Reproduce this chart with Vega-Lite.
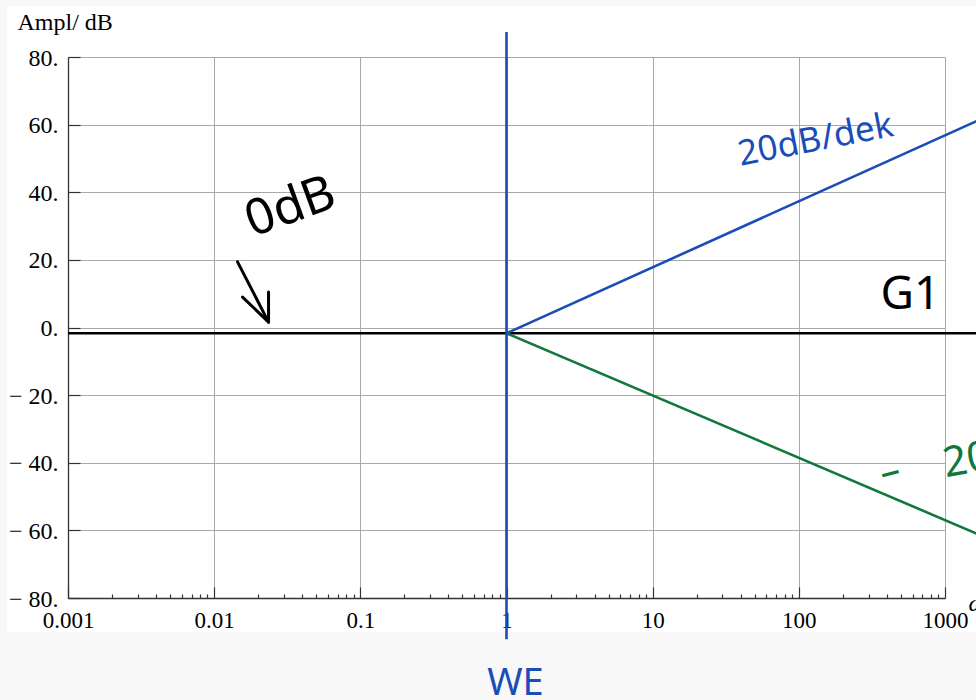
{
  "$schema": "https://vega.github.io/schema/vega-lite/v6.json",
  "width": 877,
  "height": 541,
  "autosize": {"type": "none"},
  "padding": {"left": 68, "top": 57, "right": 31, "bottom": 102},
  "background": "#ffffff",
  "datasets": {
    "bg": [
      {"x": 0.0001, "x2": 100000, "y": -90.1, "y2": -200},
      {"x": 0.0001, "x2": 100000, "y": 95.1, "y2": 200},
      {"x": 0.0001, "x2": 0.000383, "y": -200, "y2": 200}
    ],
    "lines": [
      {"name": "G1", "x": 0.001, "y": -1.7, "o": 0},
      {"name": "G1", "x": 2000, "y": -1.7, "o": 1},
      {"name": "up", "x": 1, "y": -1.7, "o": 0},
      {"name": "up", "x": 2000, "y": 62.7, "o": 1},
      {"name": "down", "x": 1, "y": -1.7, "o": 0},
      {"name": "down", "x": 2000, "y": -62.5, "o": 1},
      {"name": "we", "x": 1, "y": 87.4, "o": 0},
      {"name": "we", "x": 1, "y": -92.2, "o": 1}
    ],
    "arrow": [
      {"seg": "shaft", "x": 0.01445, "y": 19.4, "o": 0},
      {"seg": "shaft", "x": 0.02355, "y": 1.6, "o": 1},
      {"seg": "head", "x": 0.01564, "y": 9.0, "o": 0},
      {"seg": "head", "x": 0.02355, "y": 1.6, "o": 1},
      {"seg": "head", "x": 0.02355, "y": 10.5, "o": 2}
    ],
    "notes": [
      {"text": "20dB/dek", "x": 130, "y": 55.5, "c": "blue", "angle": -11, "size": 35},
      {"text": "0dB", "x": 0.0333, "y": 35.5, "c": "black", "angle": -20, "size": 50},
      {"text": "G1", "x": 580, "y": 9.6, "c": "black", "angle": 0, "size": 46},
      {"text": "WE", "x": 1.15, "y": -105.3, "c": "blue", "angle": 0, "size": 38}
    ],
    "notesLeft": [
      {"text": "–", "x": 361, "y": -43.6, "angle": -15, "size": 40},
      {"text": "20dB/dek", "x": 975, "y": -40.5, "angle": -10, "size": 42}
    ]
  },
  "layer": [
    {
      "data": {"name": "bg"},
      "mark": {"type": "rect", "color": "#f8f8f8", "clip": false},
      "encoding": {
        "x": {"field": "x", "type": "quantitative"},
        "x2": {"field": "x2"},
        "y": {"field": "y", "type": "quantitative"},
        "y2": {"field": "y2"}
      }
    },
    {
      "data": {"name": "lines"},
      "mark": {"type": "line", "clip": false, "strokeWidth": 2.6},
      "encoding": {
        "x": {
          "field": "x", "type": "quantitative",
          "scale": {"type": "log", "domain": [0.001, 1000], "nice": false},
          "axis": {
            "values": [0.001,0.002,0.003,0.004,0.005,0.006,0.007,0.008,0.009,0.01,0.02,0.03,0.04,0.05,0.06,0.07,0.08,0.09,0.1,0.2,0.3,0.4,0.5,0.6,0.7,0.8,0.9,1,2,3,4,5,6,7,8,9,10,20,30,40,50,60,70,80,90,100,200,300,400,500,600,700,800,900,1000],
            "format": "~g",
            "labelExpr": "abs(log(datum.value)/LN10 - round(log(datum.value)/LN10)) < 0.001 ? datum.label : ''",
            "tickSize": {"condition": {"test": "abs(log(datum.value)/LN10 - round(log(datum.value)/LN10)) < 0.001", "value": -11}, "value": -4},
            "gridOpacity": {"condition": {"test": "abs(log(datum.value)/LN10 - round(log(datum.value)/LN10)) < 0.001", "value": 1}, "value": 0},
            "grid": true,
            "labelPadding": 22,
            "labelFlush": false,
            "labelOverlap": false,
            "title": "ω",
            "titleFontStyle": "italic",
            "titleFont": "Liberation Serif",
            "titleFontWeight": "normal",
            "titleFontSize": 24,
            "titleAlign": "left",
            "titleBaseline": "alphabetic",
            "titleX": 900,
            "titleY": 12
          }
        },
        "y": {
          "field": "y", "type": "quantitative",
          "scale": {"domain": [-80, 80], "nice": false, "zero": false},
          "axis": {
            "values": [-80,-75,-70,-65,-60,-55,-50,-45,-40,-35,-30,-25,-20,-15,-10,-5,0,5,10,15,20,25,30,35,40,45,50,55,60,65,70,75,80],
            "labelExpr": "datum.value % 20 == 0 ? (datum.value < 0 ? '− ' + abs(datum.value) + '.' : datum.value + '.') : ''",
            "tickSize": {"condition": {"test": "datum.value % 20 == 0", "value": -12}, "value": -7},
            "gridOpacity": {"condition": {"test": "datum.value % 20 == 0", "value": 1}, "value": 0},
            "grid": true,
            "labelPadding": 22,
            "labelOffset": 1,
            "labelFlush": false,
            "labelOverlap": false,
            "title": "Ampl/ dB",
            "titleAngle": 0,
            "titleFont": "Liberation Serif",
            "titleFontWeight": "normal",
            "titleFontSize": 24,
            "titleAlign": "left",
            "titleBaseline": "alphabetic",
            "titleX": -51,
            "titleY": -28
          }
        },
        "detail": {"field": "name"},
        "order": {"field": "o"},
        "color": {
          "field": "name", "type": "nominal",
          "scale": {"domain": ["G1", "up", "down", "we"], "range": ["#000000", "#1b4db8", "#12773a", "#1b4db8"]},
          "legend": null
        },
        "strokeWidth": {
          "field": "name", "type": "nominal",
          "scale": {"domain": ["G1", "up", "down", "we"], "range": [3.2, 2.4, 2.4, 3.2]},
          "legend": null
        }
      }
    },
    {
      "data": {"name": "arrow"},
      "mark": {"type": "line", "clip": false, "strokeWidth": 3, "color": "#000000", "strokeCap": "round", "strokeJoin": "round"},
      "encoding": {
        "x": {"field": "x", "type": "quantitative"},
        "y": {"field": "y", "type": "quantitative"},
        "detail": {"field": "seg"},
        "order": {"field": "o"}
      }
    },
    {
      "data": {"name": "notes"},
      "mark": {"type": "text", "clip": false, "font": "Noto Sans", "align": "center", "baseline": "middle"},
      "encoding": {
        "x": {"field": "x", "type": "quantitative"},
        "y": {"field": "y", "type": "quantitative"},
        "text": {"field": "text"},
        "angle": {"field": "angle", "type": "quantitative", "scale": null},
        "size": {"field": "size", "type": "quantitative", "scale": null},
        "color": {
          "field": "c", "type": "nominal",
          "scale": {"domain": ["blue", "black", "green"], "range": ["#1b4db8", "#000000", "#12773a"]},
          "legend": null
        }
      }
    },
    {
      "data": {"name": "notesLeft"},
      "mark": {"type": "text", "clip": false, "font": "Noto Sans", "align": "left", "baseline": "middle", "color": "#12773a"},
      "encoding": {
        "x": {"field": "x", "type": "quantitative"},
        "y": {"field": "y", "type": "quantitative"},
        "text": {"field": "text"},
        "angle": {"field": "angle", "type": "quantitative", "scale": null},
        "size": {"field": "size", "type": "quantitative", "scale": null}
      }
    }
  ],
  "resolve": {"scale": {"color": "independent", "strokeWidth": "independent"}},
  "config": {
    "view": {"stroke": null},
    "axis": {
      "labelFont": "Liberation Serif",
      "labelFontSize": 24,
      "labelColor": "#000000",
      "domainColor": "#333333",
      "domainWidth": 1.3,
      "tickColor": "#333333",
      "tickWidth": 1.2,
      "gridColor": "#a8a8a8",
      "gridWidth": 1,
      "titleColor": "#000000"
    },
    "axisX": {"labelFontSize": 23}
  }
}
